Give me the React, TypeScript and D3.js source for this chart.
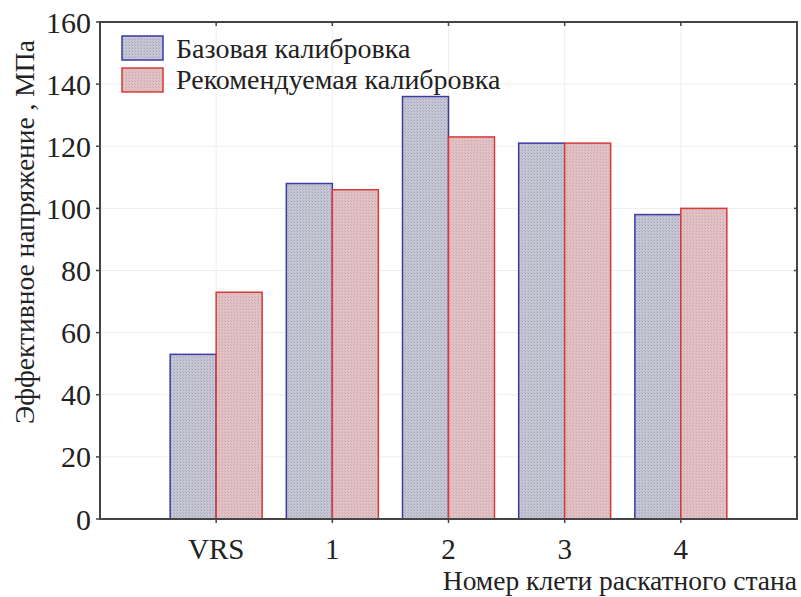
import React from "react";
import * as d3 from "d3";

const categories = ["VRS", "1", "2", "3", "4"];
const baseValues = [53, 108, 136, 121, 98];
const recValues = [73, 106, 123, 121, 100];
const seriesNames = ["Базовая калибровка", "Рекомендуемая калибровка"];
const yTicks = [0, 20, 40, 60, 80, 100, 120, 140, 160];

const W = 801;
const H = 597;
const M = { left: 100, right: 797, top: 22, bottom: 519 };
const FONT = "Liberation Serif, Times New Roman, DejaVu Serif, serif";

export default function App() {
  const x = d3.scaleLinear().domain([0, categories.length + 1]).range([M.left, M.right]);
  const y = d3.scaleLinear().domain([0, 160]).range([M.bottom, M.top]);
  const barW = 46;
  const series = [
    { name: seriesNames[0], values: baseValues, fill: "url(#patBlue)", stroke: "#3a3aa8" },
    { name: seriesNames[1], values: recValues, fill: "url(#patRed)", stroke: "#d83a3a" },
  ];
  const txt = { fontFamily: FONT, fill: "#222" } as React.CSSProperties;
  return (
    <svg width={W} height={H} style={{ position: "absolute", left: 0, top: 0, background: "#fff" }}>
      <defs>
        <pattern id="patBlue" width="3" height="3" patternUnits="userSpaceOnUse">
          <rect width="3" height="3" fill="#c6c6d4" />
          <rect width="1" height="1" fill="#9ea0b4" />
          <rect x="2" y="2" width="1" height="1" fill="#b0b2c4" />
        </pattern>
        <pattern id="patRed" width="3" height="3" patternUnits="userSpaceOnUse">
          <rect width="3" height="3" fill="#e2c2c4" />
          <rect width="1" height="1" fill="#c8a4a8" />
          <rect x="2" y="2" width="1" height="1" fill="#d4b0b4" />
        </pattern>
      </defs>
      <rect x={0} y={0} width={W} height={H} fill="#fff" />
      {yTicks.map((t) => (
        <line key={"gy" + t} x1={M.left} x2={M.right} y1={y(t)} y2={y(t)} stroke="#eeeeee" strokeWidth={1} />
      ))}
      {categories.map((c, i) => (
        <line key={"gx" + c} x1={x(i + 1)} x2={x(i + 1)} y1={M.top} y2={M.bottom} stroke="#eeeeee" strokeWidth={1} />
      ))}
      {categories.map((c, i) =>
        series.map((s, j) => {
          const x0 = x(i + 1) - barW + j * barW;
          return (
            <rect
              key={c + j}
              x={x0}
              y={y(s.values[i])}
              width={barW}
              height={y(0) - y(s.values[i])}
              fill={s.fill}
              stroke={s.stroke}
              strokeWidth={1.5}
            />
          );
        })
      )}
      <rect x={M.left} y={M.top} width={M.right - M.left} height={M.bottom - M.top} fill="none" stroke="#444" strokeWidth={2} />
      {yTicks.map((t) => (
        <g key={"ty" + t}>
          <line x1={M.left - 4} x2={M.left} y1={y(t)} y2={y(t)} stroke="#444" strokeWidth={1.5} />
          <line x1={M.right} x2={M.right - 3} y1={y(t)} y2={y(t)} stroke="#444" strokeWidth={1.5} />
          <text x={M.left - 9} y={y(t)} dy="0.35em" textAnchor="end" style={{ ...txt, fontSize: 30 }}>
            {t}
          </text>
        </g>
      ))}
      {categories.map((c, i) => (
        <g key={"tx" + c}>
          <line x1={x(i + 1)} x2={x(i + 1)} y1={M.bottom} y2={M.bottom + 4} stroke="#444" strokeWidth={1.5} />
          <line x1={x(i + 1)} x2={x(i + 1)} y1={M.top} y2={M.top + 4} stroke="#444" strokeWidth={1.5} />
          <text x={x(i + 1)} y={559} textAnchor="middle" style={{ ...txt, fontSize: 29 }}>
            {c}
          </text>
        </g>
      ))}
      <text
        transform={`translate(34, 232) rotate(-90)`}
        textAnchor="middle"
        style={{ ...txt, fontSize: 27.5 }}
      >
        Эффективное напряжение , МПа
      </text>
      <text x={797} y={590} textAnchor="end" style={{ ...txt, fontSize: 27.5 }}>
        Номер клети раскатного стана
      </text>
      {series.map((s, j) => (
        <g key={"lg" + j}>
          <rect x={122} y={36 + j * 32} width={41} height={24} fill={s.fill} stroke={s.stroke} strokeWidth={1.5} />
          <text x={176} y={58 + j * 31} style={{ ...txt, fontSize: 28 }}>
            {s.name}
          </text>
        </g>
      ))}
    </svg>
  );
}
